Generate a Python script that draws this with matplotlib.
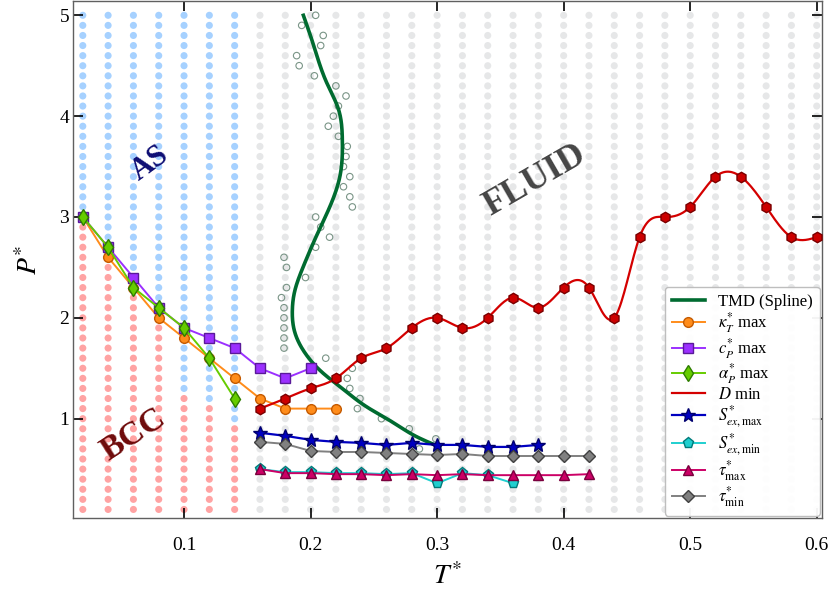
import numpy as np
import matplotlib
matplotlib.use("Agg")
import matplotlib.pyplot as plt

plt.rcParams["font.family"] = ["Liberation Serif", "DejaVu Serif"]
plt.rcParams["mathtext.fontset"] = "stix"

# simulated state points (T*, P*)
T_grid = [0.02, 0.04, 0.06, 0.08, 0.10, 0.12, 0.14, 0.16, 0.18, 0.20,
          0.22, 0.24, 0.26, 0.28, 0.30, 0.32, 0.34, 0.36, 0.38, 0.40,
          0.42, 0.44, 0.46, 0.48, 0.50, 0.52, 0.54, 0.56, 0.58, 0.60]
P_grid = [round(0.1 * k, 1) for k in range(1, 51)]
# solid columns: highest pressure still in the BCC phase (above it: AS)
T_solid = [0.02, 0.04, 0.06, 0.08, 0.10, 0.12, 0.14]
P_bcc_top = [2.9, 2.5, 2.2, 1.9, 1.2, 1.1, 0.9]

# TMD raw points
P_tmd_raw = [5.0, 4.9, 4.8, 4.7, 4.6, 4.5, 4.4, 4.3, 4.2, 4.1, 4.0, 3.9, 3.8,
             3.7, 3.6, 3.5, 3.4, 3.3, 3.2, 3.1, 3.0, 2.9, 2.8, 2.7, 2.6, 2.5,
             2.4, 2.3, 2.2, 2.1, 2.0, 1.9, 1.8, 1.7, 1.6, 1.5, 1.4, 1.3, 1.2,
             1.1, 1.0, 0.9, 0.8, 0.7]
T_tmd_raw = [0.204, 0.193, 0.210, 0.208, 0.189, 0.191, 0.203, 0.220, 0.228,
             0.222, 0.218, 0.214, 0.222, 0.229, 0.228, 0.226, 0.231, 0.226,
             0.231, 0.233, 0.204, 0.208, 0.215, 0.204, 0.179, 0.181, 0.196,
             0.181, 0.177, 0.179, 0.179, 0.179, 0.179, 0.179, 0.212, 0.233,
             0.229, 0.231, 0.239, 0.237, 0.256, 0.278, 0.299, 0.286]
# TMD smoothed line
P_tmd = [0.72, 0.82, 0.96, 1.12, 1.29, 1.45, 1.65, 1.85, 2.08, 2.25, 2.51,
         2.80, 3.14, 3.41, 3.77, 4.07, 4.33, 4.73, 5.0]
T_tmd = [0.302, 0.284, 0.2655, 0.244, 0.226, 0.210, 0.1957, 0.1877, 0.1856,
         0.1872, 0.1943, 0.2042, 0.2165, 0.2233, 0.2251, 0.2220, 0.2128,
         0.2017, 0.1943]

T_kappa = [0.02, 0.04, 0.06, 0.08, 0.10, 0.12, 0.14, 0.16, 0.18, 0.20, 0.22]
P_kappa = [3.0, 2.6, 2.3, 2.0, 1.8, 1.6, 1.4, 1.2, 1.1, 1.1, 1.1]
T_cp = [0.02, 0.04, 0.06, 0.08, 0.10, 0.12, 0.14, 0.16, 0.18, 0.20]
P_cp = [3.0, 2.7, 2.4, 2.1, 1.9, 1.8, 1.7, 1.5, 1.4, 1.5]
T_alpha = [0.02, 0.04, 0.06, 0.08, 0.10, 0.12, 0.14]
P_alpha = [3.0, 2.7, 2.3, 2.1, 1.9, 1.6, 1.2]
T_D = [0.16, 0.18, 0.20, 0.22, 0.24, 0.26, 0.28, 0.30, 0.32, 0.34, 0.36, 0.38,
       0.40, 0.42, 0.44, 0.46, 0.48, 0.50, 0.52, 0.54, 0.56, 0.58, 0.60]
P_D = [1.1, 1.2, 1.3, 1.4, 1.6, 1.7, 1.9, 2.0, 1.9, 2.0, 2.2, 2.1,
       2.3, 2.3, 2.0, 2.8, 3.0, 3.1, 3.4, 3.4, 3.1, 2.8, 2.8]
T_smax = [0.16, 0.18, 0.20, 0.22, 0.24, 0.26, 0.28, 0.30, 0.32, 0.34, 0.36, 0.38]
P_smax = [0.86, 0.83, 0.79, 0.77, 0.76, 0.74, 0.76, 0.74, 0.74, 0.72, 0.72, 0.74]
T_smin = [0.16, 0.18, 0.20, 0.22, 0.24, 0.26, 0.28, 0.30, 0.32, 0.34, 0.36]
P_smin = [0.50, 0.47, 0.47, 0.46, 0.46, 0.45, 0.46, 0.36, 0.46, 0.44, 0.36]
T_tau = [0.16, 0.18, 0.20, 0.22, 0.24, 0.26, 0.28, 0.30, 0.32, 0.34, 0.36,
         0.38, 0.40, 0.42]
P_taumax = [0.50, 0.46, 0.46, 0.45, 0.45, 0.44, 0.45, 0.44, 0.45, 0.44, 0.44,
            0.44, 0.44, 0.45]
P_taumin = [0.77, 0.75, 0.68, 0.67, 0.67, 0.66, 0.65, 0.64, 0.65, 0.63, 0.63,
            0.63, 0.63, 0.63]


def cubic_spline(x, y, n=400):
    """natural cubic spline through (x, y)"""
    x = np.asarray(x, float)
    y = np.asarray(y, float)
    m = len(x)
    h = np.diff(x)
    A = np.zeros((m, m))
    r = np.zeros(m)
    A[0, 0] = A[-1, -1] = 1.0
    for i in range(1, m - 1):
        A[i, i - 1] = h[i - 1]
        A[i, i] = 2 * (h[i - 1] + h[i])
        A[i, i + 1] = h[i]
        r[i] = 3 * ((y[i + 1] - y[i]) / h[i] - (y[i] - y[i - 1]) / h[i - 1])
    c = np.linalg.solve(A, r)
    xs = np.linspace(x[0], x[-1], n)
    k = np.clip(np.searchsorted(x, xs) - 1, 0, m - 2)
    dx = xs - x[k]
    b = (y[k + 1] - y[k]) / h[k] - h[k] * (2 * c[k] + c[k + 1]) / 3
    d = (c[k + 1] - c[k]) / (3 * h[k])
    return xs, y[k] + b * dx + c[k] * dx ** 2 + d * dx ** 3


fig = plt.figure(figsize=(8.33, 5.9), dpi=100)
ax = fig.add_axes([0.088, 0.122, 0.899, 0.876])

# background grid of state points coloured by phase
bcc_top = dict(zip(T_solid, P_bcc_top))
gx, gy, gc = [], [], []
for t in T_grid:
    for p in P_grid:
        gx.append(t)
        gy.append(p)
        if t in bcc_top:
            gc.append("#ffa3a3" if p <= bcc_top[t] + 1e-9 else "#a6d1ff")
        else:
            gc.append("#e6e7e8")
ax.scatter(gx, gy, s=26, c=gc, linewidths=0, zorder=1)

ax.scatter(T_tmd_raw, P_tmd_raw, s=22, facecolors="none",
           edgecolors="#7a9587", linewidths=0.8, zorder=2)
ps, ts = cubic_spline(P_tmd, T_tmd)
ax.plot(ts, ps, color="#006b30", lw=2.6, zorder=3, label="TMD (Spline)")

ax.plot(T_kappa, P_kappa, "-o", color="#ff8c1a", mec="#c45a00", ms=7,
        lw=1.4, zorder=4, label=r"$\kappa_T^{*}$ max")
ax.plot(T_cp, P_cp, "-s", color="#9b30ff", mec="#5a1a99", ms=6.5,
        lw=1.4, zorder=4, label=r"$c_P^{*}$ max")
ax.plot(T_alpha, P_alpha, "-d", color="#66cc00", mec="#2e7d00", ms=8,
        lw=1.4, zorder=4, label=r"$\alpha_P^{*}$ max")

ds, dp = cubic_spline(T_D, P_D)
ax.plot(ds, dp, color="#d40000", lw=1.6, zorder=4, label=r"$D$ min")
ax.plot(T_D, P_D, "h", color="#cc0000", mec="#7a0000", ms=7.5, zorder=5)

ax.plot(T_smax, P_smax, "-*", color="#0000c0", mec="#00006e", ms=10,
        lw=1.6, zorder=4, label=r"$S^{*}_{ex,\mathrm{max}}$")
ax.plot(T_smin, P_smin, "-p", color="#1fcfcf", mec="#007a7a", ms=8,
        lw=1.4, zorder=4, label=r"$S^{*}_{ex,\mathrm{min}}$")
ax.plot(T_tau, P_taumax, "-^", color="#cc0066", mec="#7a003d", ms=7,
        lw=1.4, zorder=4, label=r"$\tau^{*}_{\mathrm{max}}$")
ax.plot(T_tau, P_taumin, "-D", color="#808080", mec="#404040", ms=6.5,
        lw=1.4, zorder=4, label=r"$\tau^{*}_{\mathrm{min}}$")

# phase labels
ax.text(0.0735, 3.53, "AS", color="#0d0d73", fontsize=22, fontweight="bold",
        rotation=36, ha="center", va="center", zorder=6)
ax.text(0.060, 0.84, "BCC", color="#6e0a0a", fontsize=24, fontweight="bold",
        rotation=33, ha="center", va="center", zorder=6)
ax.text(0.3775, 3.36, "FLUID", color="#454545", fontsize=26,
        fontweight="bold", rotation=30, ha="center", va="center", zorder=6)

ax.set_xlim(0.0125, 0.6043)
ax.set_ylim(0.015, 5.14)
ax.set_xticks([0.1, 0.2, 0.3, 0.4, 0.5, 0.6])
ax.set_yticks([1, 2, 3, 4, 5])
ax.tick_params(direction="in", top=True, right=True, length=7, width=1.2,
               labelsize=14)
ax.tick_params(axis="x", pad=14)
ax.tick_params(axis="y", pad=3)
for s in ax.spines.values():
    s.set_color("#606060")
    s.set_linewidth(1.0)

ax.set_xlabel(r"$T^{*}$", fontsize=20, labelpad=6)
ax.set_ylabel(r"$P^{*}$", fontsize=20, labelpad=12)

leg = ax.legend(loc="lower right", fontsize=12, borderaxespad=0.15,
                framealpha=0.95, edgecolor="#bbbbbb", handlelength=2.0,
                labelspacing=0.05, borderpad=0.4)
leg.set_zorder(10)

fig.savefig("out.png", dpi=100)
